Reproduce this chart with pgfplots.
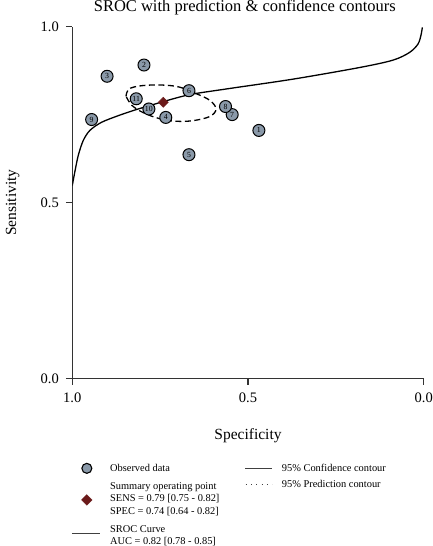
\documentclass[border=0pt]{standalone}
\usepackage{pgfplots}
\pgfplotsset{compat=1.18}
\usepackage{fontspec}
\setmainfont{Liberation Serif}
\definecolor{axgray}{HTML}{333333}
\definecolor{ptfill}{HTML}{8A99A9}
\definecolor{diam}{HTML}{6B1A1A}
\newcommand{\lt}[1]{\fontsize{10.4}{12.2}\selectfont #1}
% invisible box giving each legend row its height (above) and depth (below the baseline)
\pgfplotsset{
  rowbox/.style 2 args={legend image code/.code={\path[draw=none,fill=none] (0pt,-#2) rectangle (27pt,#1);}},
}
\begin{document}
\begin{tikzpicture}
\begin{axis}[
  at={(0,0)}, anchor=south west,
  scale only axis, width=351.4pt, height=351.6pt,
  xmin=0, xmax=1, ymin=0, ymax=1, x dir=reverse,
  axis x line*=bottom, axis y line*=left,
  axis line style={axgray, line width=1.4pt},
  xtick={0,0.5,1}, ytick={0,0.5,1},
  tick align=outside, major tick length=6.5pt,
  tick style={axgray, line width=1.2pt},
  /pgf/number format/assume math mode=true,
  xticklabel={\pgfmathprintnumber[fixed,fixed zerofill,precision=1]{\tick}},
  yticklabel={\pgfmathprintnumber[fixed,fixed zerofill,precision=1]{\tick}},
  ticklabel style={font=\fontsize{14.5}{16}\selectfont},
  xticklabel style={yshift=-5pt},
  yticklabel style={xshift=-3.5pt},
  title={SROC with prediction \& confidence contours},
  every axis title/.style={at={(axis description cs:0.491,1)}, anchor=base, yshift=15pt, font=\fontsize{16.5}{19}\selectfont},
  xlabel={Specificity},
  xlabel style={at={(axis description cs:0.5,-0.162)}, anchor=center, font=\fontsize{15.5}{18}\selectfont},
  ylabel={Sensitivity},
  ylabel style={at={(axis description cs:-0.17,0.5)}, anchor=center, rotate=0, font=\fontsize{15.5}{18}\selectfont},
  legend style={at={(axis description cs:0.001,-0.2435)}, anchor=north west, draw=none, fill=none,
    inner sep=0pt, row sep=0pt, column sep=10.3pt, nodes={inner sep=0pt}, cells={anchor=base west}},
]
% legend entries (column 1)
\addlegendimage{legend image code/.code={\path[draw=none,fill=none] (0pt,-11pt) rectangle (27pt,7pt);
  \draw[overlay, fill=ptfill, draw=black, line width=1.1pt] (14pt,3pt) circle (5pt);}}
\addlegendentry{\lt{Observed data}}
\addlegendimage{rowbox={7pt}{5.2pt}}
\addlegendentry{\lt{Summary operating point}}
\addlegendimage{legend image code/.code={\path[draw=none,fill=none] (0pt,-5.2pt) rectangle (27pt,7pt);
  \fill[overlay, diam] (14pt,-3.5pt) -- (19.3pt,1.8pt) -- (14pt,7.1pt) -- (8.7pt,1.8pt) -- cycle;}}
\addlegendentry{\lt{SENS = 0.79 [0.75 - 0.82]}}
\addlegendimage{rowbox={7pt}{11pt}}
\addlegendentry{\lt{SPEC = 0.74 [0.64 - 0.82]}}
\addlegendimage{legend image code/.code={\path[draw=none,fill=none] (0pt,-4.7pt) rectangle (27pt,7pt);
  \draw[overlay, black!75, line width=1.2pt] (-1pt,-1.2pt) -- (27pt,-1.2pt);}}
\addlegendentry{\lt{SROC Curve}}
\addlegendimage{rowbox={7pt}{3pt}}
\addlegendentry{\lt{AUC = 0.82 [0.78 - 0.85]}}
% SROC curve
\addplot[black, line width=1.3pt, smooth, tension=0.5, forget plot] coordinates {
 (1.000,0.548) (0.996,0.570) (0.992,0.591) (0.983,0.634) (0.969,0.676)
 (0.950,0.705) (0.917,0.728) (0.869,0.747) (0.822,0.763) (0.765,0.780)
 (0.741,0.787) (0.665,0.807) (0.561,0.823) (0.371,0.851) (0.182,0.884)
 (0.087,0.905) (0.040,0.927) (0.016,0.951) (0.007,0.979) (0.004,0.998)};
% confidence contour
\addplot[black, line width=1.3pt, dash pattern=on 6pt off 3.5pt, smooth, tension=0.6, forget plot] coordinates {
 (0.847,0.802) (0.835,0.825) (0.778,0.834) (0.703,0.830) (0.646,0.809)
 (0.608,0.790) (0.591,0.766) (0.608,0.745) (0.655,0.733) (0.703,0.731)
 (0.750,0.738) (0.797,0.755) (0.830,0.776) (0.847,0.802)};
% observed data
\addplot[only marks, mark=*, mark size=6pt, mark options={fill=ptfill, draw=black, line width=1pt},
  nodes near coords, point meta=explicit symbolic, nodes near coords align=center,
  every node near coord/.append style={font=\fontsize{7.8}{8}\selectfont, inner sep=0pt, text=black}, forget plot]
 coordinates {
 (0.469,0.705) [1] (0.796,0.891) [2] (0.901,0.859) [3] (0.734,0.742) [4]
 (0.668,0.636) [5] (0.668,0.818) [6] (0.545,0.750) [7] (0.564,0.773) [8]
 (0.945,0.736) [9] (0.782,0.766) [10] (0.818,0.795) [11]};
% summary point
\addplot[only marks, mark=square*, mark size=3.6pt, mark options={rotate=45, fill=diam, draw=diam}, forget plot]
 coordinates {(0.741,0.785)};
\end{axis}
\begin{axis}[
  at={(0,0)}, anchor=south west,
  scale only axis, width=351.4pt, height=351.6pt,
  xmin=0, xmax=1, ymin=0, ymax=1, hide axis,
  legend style={at={(axis description cs:0.4915,-0.2435)}, anchor=north west, draw=none, fill=none,
    inner sep=0pt, row sep=0pt, column sep=9.7pt, nodes={inner sep=0pt}, cells={anchor=base west}},
]
\addlegendimage{legend image code/.code={\path[draw=none,fill=none] (0pt,-9.3pt) rectangle (27pt,7pt);
  \draw[overlay, black!75, line width=1.2pt] (0pt,3pt) -- (27pt,3pt);}}
\addlegendentry{\lt{95\% Confidence contour}}
\addlegendimage{legend image code/.code={\path[draw=none,fill=none] (0pt,-3pt) rectangle (27pt,7pt);
  \draw[overlay, black!75, line width=1pt, dash pattern=on 0.9pt off 4.4pt] (0.5pt,3.3pt) -- (27pt,3.3pt);}}
\addlegendentry{\lt{95\% Prediction contour}}
\end{axis}
\pgfresetboundingbox
\path (-72.3pt,-167.7pt) rectangle (359.7pt,378.3pt);
\end{tikzpicture}
\end{document}
